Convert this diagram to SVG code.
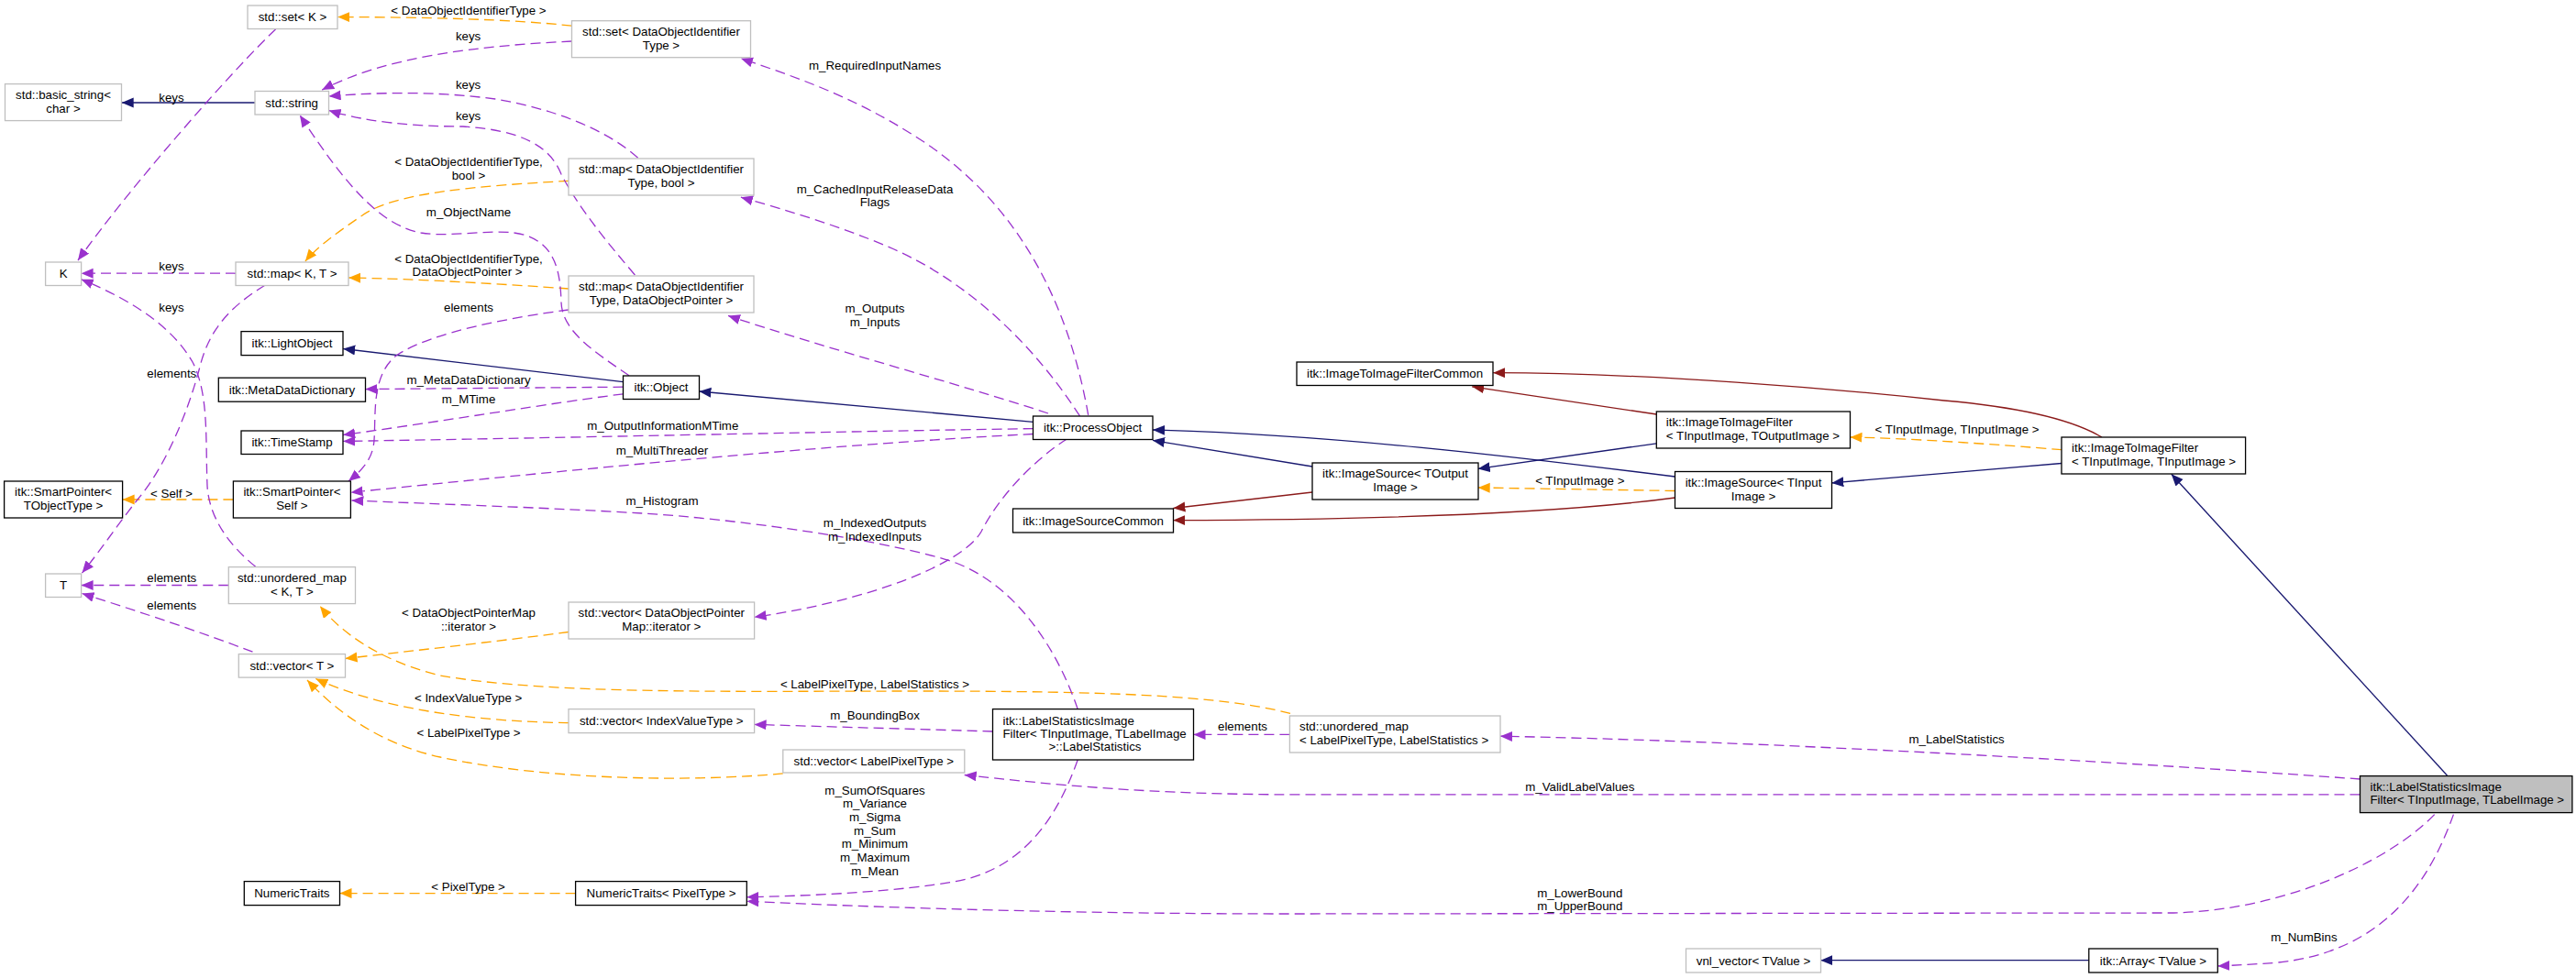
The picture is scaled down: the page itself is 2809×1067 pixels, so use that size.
<svg xmlns="http://www.w3.org/2000/svg" width="2809" height="1067" viewBox="0 0 2809 1067">
<defs>
<style>
text{font-family:"Liberation Sans",Arial,Helvetica,sans-serif;font-size:13.3px;fill:#000}
.c{text-anchor:middle}
.l{text-anchor:start}
rect.b{fill:#fff;stroke:#000;stroke-width:1.3}
rect.g{fill:#fff;stroke:#bfbfbf;stroke-width:1.3}
rect.m{fill:#bfbfbf;stroke:#000;stroke-width:1.3}
path{fill:none;stroke-width:1.3}
path.u{stroke:#9a32cd;stroke-dasharray:11,6;marker-end:url(#au)}
path.t{stroke:#ffa500;stroke-dasharray:11,6;marker-end:url(#at)}
path.i{stroke:#191970;marker-end:url(#ai)}
path.p{stroke:#8b1a1a;marker-end:url(#ap)}
</style>
<marker id="au" markerUnits="userSpaceOnUse" markerWidth="14" markerHeight="12" refX="13" refY="5.5" orient="auto"><path d="M0,0 L13,5.5 L0,11 z" style="fill:#9a32cd;stroke:none"/></marker>
<marker id="at" markerUnits="userSpaceOnUse" markerWidth="14" markerHeight="12" refX="13" refY="5.5" orient="auto"><path d="M0,0 L13,5.5 L0,11 z" style="fill:#ffa500;stroke:none"/></marker>
<marker id="ai" markerUnits="userSpaceOnUse" markerWidth="14" markerHeight="12" refX="13" refY="5.5" orient="auto"><path d="M0,0 L13,5.5 L0,11 z" style="fill:#191970;stroke:none"/></marker>
<marker id="ap" markerUnits="userSpaceOnUse" markerWidth="14" markerHeight="12" refX="13" refY="5.5" orient="auto"><path d="M0,0 L13,5.5 L0,11 z" style="fill:#8b1a1a;stroke:none"/></marker>
</defs>
<rect width="2809" height="1067" fill="#fff"/>
<g id="edges">
<path class="i" d="M278,112 L132.7,112"/>
<path class="i" d="M679.5,416.7 L374.2,380.5"/>
<path class="i" d="M1126.5,460.4 L762.4,427"/>
<path class="i" d="M1431,509 L1257,480.4"/>
<path class="i" d="M1826.5,520 C1650,498 1450,474 1257,469"/>
<path class="i" d="M1806.3,483.8 L1611.7,511.4"/>
<path class="i" d="M2248,505.5 L1997.3,526.9"/>
<path class="i" d="M2668.5,846 L2367.8,517.2"/>
<path class="i" d="M2277.8,1047.7 L1985.4,1047.7"/>
<path class="p" d="M1806.3,452 L1605.2,421.8"/>
<path class="p" d="M2292,477 C2260,458 2200,444 2120,437 C2000,424 1800,407 1628.2,406.7"/>
<path class="p" d="M1431,537 L1279.4,554.5"/>
<path class="p" d="M1826.5,543 C1700,560 1500,567 1279.4,567.6"/>
<path class="t" d="M623.5,28.2 C560,21 460,18.5 368.2,18.6"/>
<path class="t" d="M620.3,197.3 C520,203 430,210 395,235 C370,252 345,270 332.9,285.1"/>
<path class="t" d="M620.3,315 C550,310 450,304 380.2,303"/>
<path class="t" d="M254.4,545 L133.6,545"/>
<path class="t" d="M620,689.5 C540,700 450,710 376.5,718.5"/>
<path class="t" d="M620,788.7 C520,787 420,775 344.3,740.5"/>
<path class="t" d="M853.8,843.8 C760,853 600,852 480,826 C430,815 380,790 335,742"/>
<path class="t" d="M1407,778.4 C1330,758 1200,754 1000,754 C800,754 600,758 480,737 C430,725 380,700 349,661.3"/>
<path class="t" d="M2248,490.7 C2180,485 2080,478 2017.5,477"/>
<path class="t" d="M1826.5,535.5 L1611.7,532"/>
<path class="t" d="M627.6,974.6 L370.5,974.6"/>
<path class="u" d="M300.7,31.7 C255,75 145,200 85,284"/>
<path class="u" d="M623.5,45 C520,50 420,62 351.2,98.1"/>
<path class="u" d="M695.6,172.2 C660,140 600,118 540,108 C480,100 420,100 358.6,105"/>
<path class="u" d="M692.4,300 C660,262 630,225 612,190 C600,160 570,142 505,138 C450,138 400,133 358.6,120.5"/>
<path class="u" d="M686,409.8 C650,385 613,362 612,330 C611,295 605,268 574,257 C545,247 495,260 459,254 C420,246 385,215 327,125.7"/>
<path class="u" d="M257,298.2 L88.6,298.2"/>
<path class="u" d="M278.7,618.3 C250,595 228,565 226,530 C224,480 228,430 210,395 C190,360 150,330 88.6,304.8"/>
<path class="u" d="M289.3,311 C250,335 228,360 218,400 C205,450 180,510 150,545 C130,570 110,600 89.5,625.1"/>
<path class="u" d="M249.3,638.5 L88.6,638.5"/>
<path class="u" d="M275.5,711.2 C220,690 160,670 89.5,647.5"/>
<path class="u" d="M620,338 C560,346 470,362 432,388 C405,410 410,450 408,480 C407,500 395,513 380,525"/>
<path class="u" d="M679.5,422.2 L398.5,424.6"/>
<path class="u" d="M679.5,429.8 C600,440 480,460 374.2,474.5"/>
<path class="u" d="M1126.5,467.6 C900,471 600,478 374.2,481.4"/>
<path class="u" d="M1126.5,473.5 C900,485 600,515 382.5,537.2"/>
<path class="u" d="M1186.7,452.8 C1165,330 1110,220 1000,150 C930,105 870,85 807.9,63.7"/>
<path class="u" d="M1177.5,453.9 C1130,380 1060,310 975,272 C920,248 860,230 807.9,215.2"/>
<path class="u" d="M1143,451 C1050,420 900,380 794,344.4"/>
<path class="u" d="M1163.7,478.7 C1130,500 1090,540 1070,580 C1050,615 950,655 822.6,673.3"/>
<path class="u" d="M1175.2,773.6 C1150,700 1100,630 1030,610 C950,587 800,566 700,560 C600,554 480,550 383.4,546"/>
<path class="u" d="M1082.5,798 L822.6,790.4"/>
<path class="u" d="M1175.2,829 C1150,900 1110,950 1040,962 C980,972 900,977 814.3,978.8"/>
<path class="u" d="M1406.4,801.4 L1301.5,801.4"/>
<path class="u" d="M2573.5,850 C2300,830 1900,808 1636,803.2"/>
<path class="u" d="M2573.5,866.9 L1420,866.9 C1250,866.9 1150,856 1051.7,845.5"/>
<path class="u" d="M2654.7,888.6 C2600,945 2480,995 2365,996 L1411,997 C1200,997 1000,992 814.3,983.3"/>
<path class="u" d="M2675.4,888.6 C2650,960 2600,1040 2480,1050.4 C2460,1052 2440,1053 2418.3,1053.9"/>
</g>
<g id="edge-labels">
<text class="c" x="511" y="16">&lt; DataObjectIdentifierType &gt;</text>
<text class="c" x="510.6" y="44">keys</text>
<text class="c" x="187" y="110.5">keys</text>
<text class="c" x="510.6" y="97">keys</text>
<text class="c" x="510.6" y="130.5">keys</text>
<text class="c" x="511" y="181">&lt; DataObjectIdentifierType,</text>
<text class="c" x="511" y="195.5">bool &gt;</text>
<text class="c" x="511" y="236">m_ObjectName</text>
<text class="c" x="187" y="295">keys</text>
<text class="c" x="511" y="287">&lt; DataObjectIdentifierType,</text>
<text class="c" x="509.6" y="300.5">DataObjectPointer &gt;</text>
<text class="c" x="187" y="339.5">keys</text>
<text class="c" x="511" y="339.5">elements</text>
<text class="c" x="187.3" y="412">elements</text>
<text class="c" x="511" y="419">m_MetaDataDictionary</text>
<text class="c" x="511" y="440">m_MTime</text>
<text class="c" x="722.8" y="468.7">m_OutputInformationMTime</text>
<text class="c" x="722" y="496">m_MultiThreader</text>
<text class="c" x="954" y="76">m_RequiredInputNames</text>
<text class="c" x="954" y="211">m_CachedInputReleaseData</text>
<text class="c" x="954" y="225">Flags</text>
<text class="c" x="954" y="341">m_Outputs</text>
<text class="c" x="954" y="355.7">m_Inputs</text>
<text class="c" x="2134" y="473">&lt; TInputImage, TInputImage &gt;</text>
<text class="c" x="1722.8" y="529">&lt; TInputImage &gt;</text>
<text class="c" x="187" y="542.5">&lt; Self &gt;</text>
<text class="c" x="722" y="551">m_Histogram</text>
<text class="c" x="954" y="575">m_IndexedOutputs</text>
<text class="c" x="954" y="589.5">m_IndexedInputs</text>
<text class="c" x="187.3" y="635">elements</text>
<text class="c" x="187.3" y="665">elements</text>
<text class="c" x="511" y="672.7">&lt; DataObjectPointerMap</text>
<text class="c" x="511" y="688">::iterator &gt;</text>
<text class="c" x="954" y="751">&lt; LabelPixelType, LabelStatistics &gt;</text>
<text class="c" x="510.6" y="765.7">&lt; IndexValueType &gt;</text>
<text class="c" x="954" y="785.3">m_BoundingBox</text>
<text class="c" x="1355" y="797.3">elements</text>
<text class="c" x="511" y="804">&lt; LabelPixelType &gt;</text>
<text class="c" x="2133.6" y="811">m_LabelStatistics</text>
<text class="c" x="1722.8" y="862.8">m_ValidLabelValues</text>
<text class="c" x="954" y="866.6">m_SumOfSquares</text>
<text class="c" x="954" y="881">m_Variance</text>
<text class="c" x="954" y="895.8">m_Sigma</text>
<text class="c" x="954" y="911">m_Sum</text>
<text class="c" x="954" y="924.7">m_Minimum</text>
<text class="c" x="954" y="940.2">m_Maximum</text>
<text class="c" x="954" y="955">m_Mean</text>
<text class="c" x="510.6" y="971.5">&lt; PixelType &gt;</text>
<text class="c" x="1722.8" y="979.2">m_LowerBound</text>
<text class="c" x="1722.8" y="993">m_UpperBound</text>
<text class="c" x="2512.4" y="1026.7">m_NumBins</text>
</g>
<g id="n_setK"><rect class="g" x="270" y="6" width="98" height="25.5"/><text class="c" x="319" y="23.3">std::set&lt; K &gt;</text></g>
<g id="n_setDOIT"><rect class="g" x="623.5" y="22.7" width="195" height="40"/><text class="c" x="721" y="39">std::set&lt; DataObjectIdentifier</text><text class="c" x="721" y="54">Type &gt;</text></g>
<g id="n_basicstring"><rect class="g" x="5.5" y="91.6" width="127" height="40"/><text class="c" x="69" y="107.9">std::basic_string&lt;</text><text class="c" x="69" y="122.9">char &gt;</text></g>
<g id="n_string"><rect class="g" x="278" y="99.5" width="80.5" height="25.5"/><text class="c" x="318.2" y="116.8">std::string</text></g>
<g id="n_mapbool"><rect class="g" x="620" y="173" width="202" height="40"/><text class="c" x="721" y="189.3">std::map&lt; DataObjectIdentifier</text><text class="c" x="721" y="204.3">Type, bool &gt;</text></g>
<g id="n_K"><rect class="g" x="49.6" y="286" width="39" height="25.5"/><text class="c" x="69.1" y="303.3">K</text></g>
<g id="n_mapKT"><rect class="g" x="257" y="286" width="123" height="25.5"/><text class="c" x="318.5" y="303.3">std::map&lt; K, T &gt;</text></g>
<g id="n_mapDOP"><rect class="g" x="620" y="301" width="202" height="40"/><text class="c" x="721" y="317.3">std::map&lt; DataObjectIdentifier</text><text class="c" x="721" y="332.3">Type, DataObjectPointer &gt;</text></g>
<g id="n_LightObject"><rect class="b" x="263" y="361.6" width="111" height="26"/><text class="c" x="318.5" y="379.1">itk::LightObject</text></g>
<g id="n_MetaDataDictionary"><rect class="b" x="238.3" y="412.2" width="160.2" height="26"/><text class="c" x="318.4" y="429.7">itk::MetaDataDictionary</text></g>
<g id="n_Object"><rect class="b" x="679.5" y="410" width="83" height="25.5"/><text class="c" x="721" y="427.3">itk::Object</text></g>
<g id="n_TimeStamp"><rect class="b" x="263" y="470" width="111" height="25.5"/><text class="c" x="318.5" y="487.3">itk::TimeStamp</text></g>
<g id="n_SmartPointerSelf"><rect class="b" x="254.4" y="525" width="128" height="40"/><text class="c" x="318.4" y="541.3">itk::SmartPointer&lt;</text><text class="c" x="318.4" y="556.3">Self &gt;</text></g>
<g id="n_SmartPointerT"><rect class="b" x="4.6" y="525" width="129" height="40"/><text class="c" x="69.1" y="541.3">itk::SmartPointer&lt;</text><text class="c" x="69.1" y="556.3">TObjectType &gt;</text></g>
<g id="n_ProcessObject"><rect class="b" x="1126.5" y="454" width="130.5" height="25.5"/><text class="c" x="1191.7" y="471.3">itk::ProcessObject</text></g>
<g id="n_ImageToImageFilterCommon"><rect class="b" x="1414" y="395" width="214" height="25.5"/><text class="c" x="1521" y="412.3">itk::ImageToImageFilterCommon</text></g>
<g id="n_ImageToImageFilterTO"><rect class="b" x="1806.3" y="449" width="211.2" height="40"/><text class="l" x="1816.8" y="465.3">itk::ImageToImageFilter</text><text class="l" x="1816.8" y="480.3">&lt; TInputImage, TOutputImage &gt;</text></g>
<g id="n_ImageSourceTO"><rect class="b" x="1431" y="505" width="181" height="40"/><text class="c" x="1521.5" y="521.3">itk::ImageSource&lt; TOutput</text><text class="c" x="1521.5" y="536.3">Image &gt;</text></g>
<g id="n_ImageSourceTI"><rect class="b" x="1826.5" y="514.5" width="171" height="40"/><text class="c" x="1912" y="530.8">itk::ImageSource&lt; TInput</text><text class="c" x="1912" y="545.8">Image &gt;</text></g>
<g id="n_ImageToImageFilterTI"><rect class="b" x="2248" y="477" width="200.6" height="40"/><text class="l" x="2259" y="493.3">itk::ImageToImageFilter</text><text class="l" x="2259" y="508.3">&lt; TInputImage, TInputImage &gt;</text></g>
<g id="n_ImageSourceCommon"><rect class="b" x="1104.5" y="555" width="175" height="26"/><text class="c" x="1192" y="572.5">itk::ImageSourceCommon</text></g>
<g id="n_T"><rect class="g" x="49.6" y="626" width="39" height="25.5"/><text class="c" x="69.1" y="643.3">T</text></g>
<g id="n_umapKT"><rect class="g" x="249.3" y="618.6" width="138.2" height="40"/><text class="c" x="318.4" y="634.9">std::unordered_map</text><text class="c" x="318.4" y="649.9">&lt; K, T &gt;</text></g>
<g id="n_vecT"><rect class="g" x="260.3" y="713.6" width="116.2" height="25.5"/><text class="c" x="318.4" y="730.9">std::vector&lt; T &gt;</text></g>
<g id="n_vecDOP"><rect class="g" x="620" y="657" width="202.6" height="40"/><text class="c" x="721.3" y="673.3">std::vector&lt; DataObjectPointer</text><text class="c" x="721.3" y="688.3">Map::iterator &gt;</text></g>
<g id="n_vecIVT"><rect class="g" x="620" y="773.6" width="202.6" height="26"/><text class="c" x="721.3" y="791.1">std::vector&lt; IndexValueType &gt;</text></g>
<g id="n_LabelStatistics"><rect class="b" x="1082.5" y="773.6" width="219" height="55.4"/><text class="l" x="1093.5" y="790.6">itk::LabelStatisticsImage</text><text class="l" x="1093.5" y="805">Filter&lt; TInputImage, TLabelImage</text><text class="c" x="1194" y="819">&gt;::LabelStatistics</text></g>
<g id="n_vecLPT"><rect class="g" x="853.8" y="818" width="198" height="25"/><text class="c" x="952.8" y="835">std::vector&lt; LabelPixelType &gt;</text></g>
<g id="n_umapLS"><rect class="g" x="1406.4" y="781" width="229.6" height="40"/><text class="l" x="1417" y="797.3">std::unordered_map</text><text class="l" x="1417" y="812.3">&lt; LabelPixelType, LabelStatistics &gt;</text></g>
<g id="n_main"><rect class="m" x="2573.5" y="846.6" width="231.4" height="40"/><text class="l" x="2584.5" y="862.9">itk::LabelStatisticsImage</text><text class="l" x="2584.5" y="877.4">Filter&lt; TInputImage, TLabelImage &gt;</text></g>
<g id="n_NumericTraits"><rect class="b" x="266.3" y="961.6" width="104.2" height="26"/><text class="c" x="318.4" y="979.1">NumericTraits</text></g>
<g id="n_NumericTraitsPixel"><rect class="b" x="627.6" y="961.6" width="186.7" height="26"/><text class="c" x="721" y="979.1">NumericTraits&lt; PixelType &gt;</text></g>
<g id="n_vnl_vector"><rect class="g" x="1838.5" y="1035" width="147" height="26"/><text class="c" x="1912" y="1052.5">vnl_vector&lt; TValue &gt;</text></g>
<g id="n_Array"><rect class="b" x="2277.8" y="1035" width="140.5" height="26"/><text class="c" x="2348" y="1052.5">itk::Array&lt; TValue &gt;</text></g>
</svg>
